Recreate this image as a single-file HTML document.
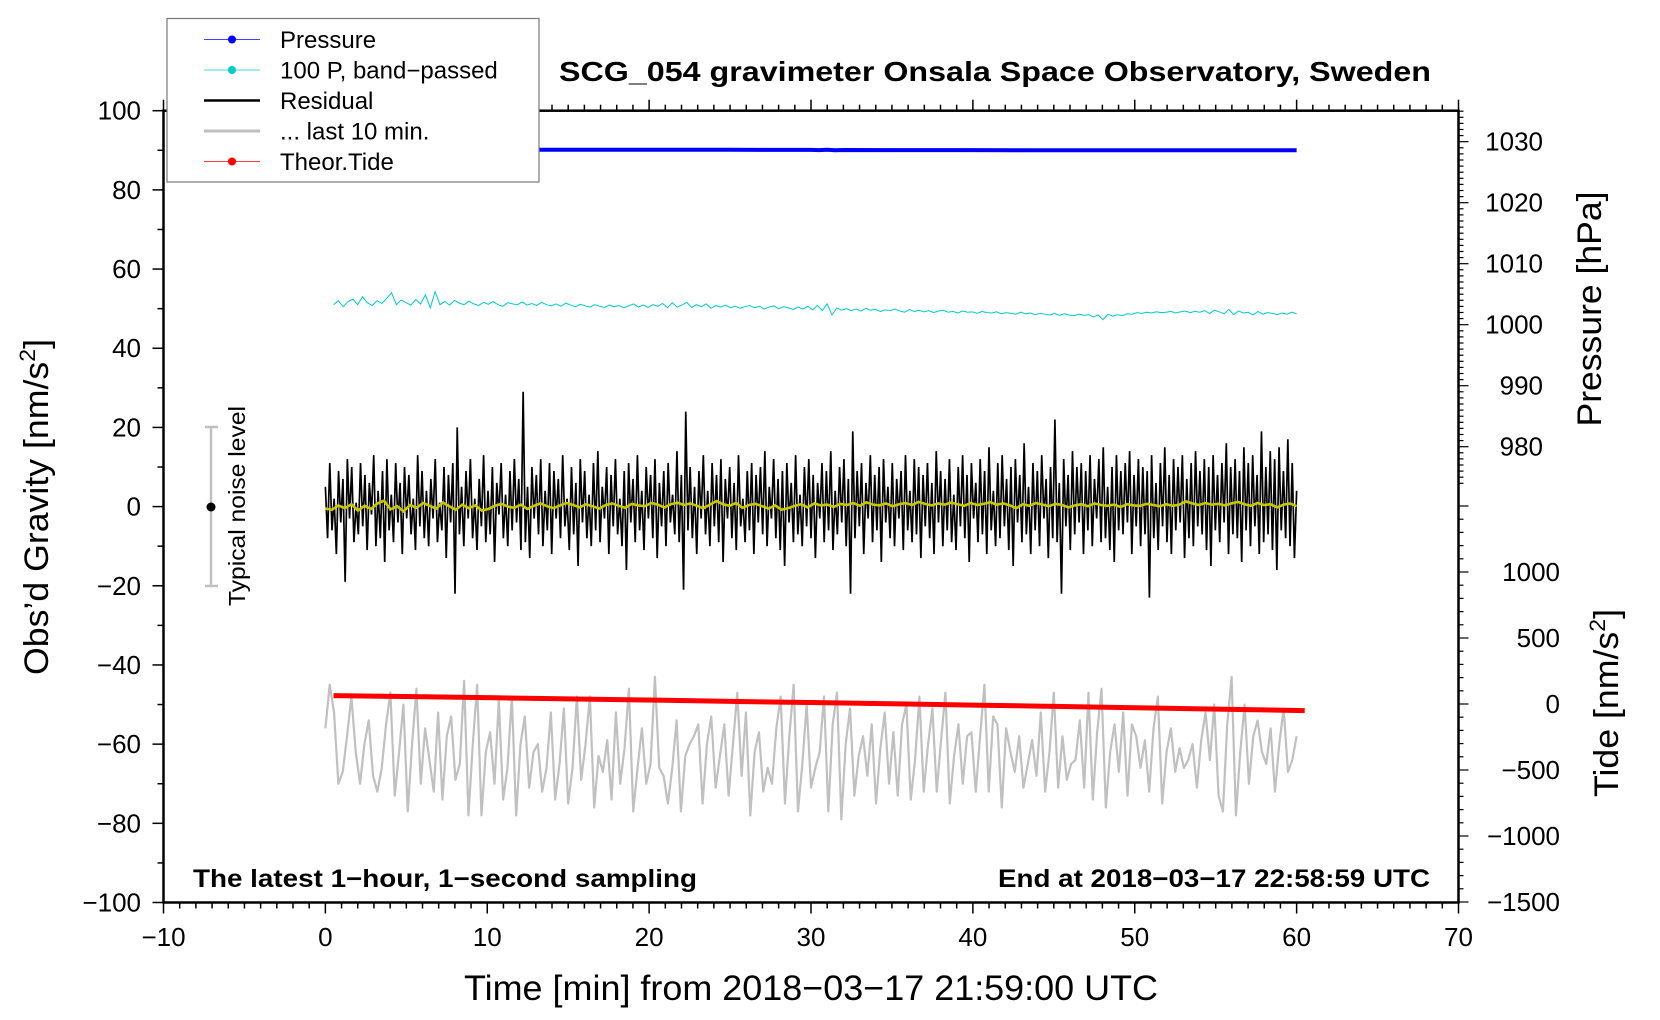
<!DOCTYPE html>
<html><head><meta charset="utf-8"><style>
html,body{margin:0;padding:0;background:#fff;}
svg{display:block;font-family:"Liberation Sans",Arial,sans-serif;}
</style></head><body>
<svg id="chart" width="1660" height="1020" viewBox="0 0 1660 1020" xmlns="http://www.w3.org/2000/svg">
<rect width="1660" height="1020" fill="#fff"/>
<g id="marks"></g>
<g id="axes"></g>
<text x="995" y="81" text-anchor="middle" font-size="28" font-weight="bold" textLength="872" lengthAdjust="spacingAndGlyphs">SCG_054 gravimeter Onsala Space Observatory, Sweden</text>
<text x="193" y="887" font-size="25" font-weight="bold" textLength="504" lengthAdjust="spacingAndGlyphs">The latest 1−hour, 1−second sampling</text>
<text x="1430" y="887" text-anchor="end" font-size="25" font-weight="bold" textLength="432" lengthAdjust="spacingAndGlyphs">End at 2018−03−17 22:58:59 UTC</text>
<text x="811" y="1000" text-anchor="middle" font-size="35" textLength="694" lengthAdjust="spacingAndGlyphs">Time [min] from 2018−03−17 21:59:00 UTC</text>
<text transform="translate(48,507) rotate(-90)" text-anchor="middle" font-size="34" textLength="336" lengthAdjust="spacingAndGlyphs">Obs’d Gravity [nm/s<tspan font-size="22" dy="-13">2</tspan><tspan dy="13">]</tspan></text>
<text transform="translate(1601,309) rotate(-90)" text-anchor="middle" font-size="34" textLength="235" lengthAdjust="spacingAndGlyphs">Pressure [hPa]</text>
<text transform="translate(1618,703) rotate(-90)" text-anchor="middle" font-size="34" textLength="188" lengthAdjust="spacingAndGlyphs">Tide [nm/s<tspan font-size="22" dy="-13">2</tspan><tspan dy="13">]</tspan></text>
<g>
<line x1="211" y1="427" x2="211" y2="586" stroke="#c0c0c0" stroke-width="2.5"/>
<line x1="205" y1="427" x2="218" y2="427" stroke="#c0c0c0" stroke-width="2.5"/>
<line x1="205" y1="586" x2="218" y2="586" stroke="#c0c0c0" stroke-width="2.5"/>
<circle cx="211" cy="507" r="4.5" fill="#000"/>
<text transform="translate(245,506) rotate(-90)" text-anchor="middle" font-size="23" textLength="200" lengthAdjust="spacingAndGlyphs">Typical noise level</text>
</g>
<g>
<rect x="167" y="18.5" width="372" height="163.5" fill="#fff" stroke="#777" stroke-width="1.2"/>
<g><line x1="204" y1="39.5" x2="260" y2="39.5" stroke="#0000ff" stroke-width="0.8"/><circle cx="232" cy="39.5" r="4" fill="#0000ff"/><text x="280" y="48" font-size="24">Pressure</text></g>
<g><line x1="204" y1="70" x2="260" y2="70" stroke="#00cccc" stroke-width="0.8"/><circle cx="232" cy="70" r="4" fill="#00cccc"/><text x="280" y="78.5" font-size="24">100 P, band−passed</text></g>
<g><line x1="204" y1="100.5" x2="260" y2="100.5" stroke="#000" stroke-width="2.5"/><text x="280" y="109" font-size="24">Residual</text></g>
<g><line x1="204" y1="131" x2="260" y2="131" stroke="#c0c0c0" stroke-width="3"/><text x="280" y="139.5" font-size="24">... last 10 min.</text></g>
<g><line x1="204" y1="161.5" x2="260" y2="161.5" stroke="#ff0000" stroke-width="0.8"/><circle cx="232" cy="161.5" r="4" fill="#ff0000"/><text x="280" y="170" font-size="24">Theor.Tide</text></g>
</g>
</svg>
<script>
const xTicks=[-10,0,10,20,30,40,50,60,70];
const yTicks=[100,80,60,40,20,0,-20,-40,-60,-80,-100];
const pTicks=[1030,1020,1010,1000,990,980];
const tideTicks=[1000,500,0,-500,-1000,-1500];
const pressureTimes=[0,5,10,15,20,25,30,30.5,31,31.5,32,35,40,45,50,55,60];
const pressureVals=[1028.7,1028.7,1028.69,1028.68,1028.68,1028.67,1028.66,1028.62,1028.68,1028.6,1028.64,1028.62,1028.61,1028.6,1028.6,1028.6,1028.59];
const tideTimes=[0.5,5.5,10.5,15.5,20.5,25.5,30.5,35.5,40.5,45.5,50.5,55.5,60.5];
const tideVals=[63,56,47,38,29,19,10,1,-9,-19,-29,-40,-50];
const bandVals=[51,52,50.5,51.8,52.4,51,53,51.5,50.8,52,51.3,52.6,54,51,52.2,51.5,50.9,52.3,51.2,53.5,50.2,54.3,51,51.8,50.9,52.1,51.4,51,51.9,51.2,50.8,51.6,51.1,51.8,51,50.6,51.5,51.2,51,51.7,50.9,51.3,50.8,51.6,51,50.7,51.2,50.6,51.4,50.9,50.5,51.1,50.7,50.4,51,50.6,50.3,50.9,50.5,50.8,50.2,50.7,51.2,50.4,50.9,50.3,51,50.6,51.3,50.2,51.5,50.4,50.9,51.6,50.3,51,50.5,51.2,50.1,50.8,50.4,50.9,50.2,50.6,50.1,50.5,50.8,50.2,50.6,49.9,50.4,50.7,50,50.5,50.2,49.8,50.4,49.9,50.6,49.7,50.8,49.5,51.2,48.4,50.2,49.6,50,49.5,49.9,49.4,50.1,49.6,49.8,49.3,49.7,49.5,49.9,49.4,49.1,49.8,49.3,49.6,49.2,49.5,49,49.4,49.6,49.1,49.3,48.9,49.4,49.1,49.2,48.8,49.3,49,48.9,49.2,48.7,49,48.8,48.6,49.1,48.7,48.9,48.5,48.8,48.6,48.4,48.8,48.3,48.7,48.4,48.2,48.6,48.3,48.5,47.9,48.4,47.2,48.6,48.1,48.5,48.2,48.7,48.6,49,48.8,49.1,48.9,49.2,49,49.1,49.3,48.9,49.2,49.4,49,49.3,49.1,49.5,48.8,49.6,49.2,48.7,49.8,48.5,49.4,48.9,49.1,48.4,49.3,48.6,49,48.8,48.5,48.9,48.6,49.1,48.7];
const residualVals=[5,-8,11,-6,2,-12,9,-4,7,-19,12,-3,10,-9,1,-7,11,-5,8,-11,6,-2,13,-10,4,-8,9,-14,12,-6,3,-9,11,-4,6,-12,10,-3,8,-7,2,-11,13,-5,9,-8,4,-10,7,-3,12,-9,1,-6,10,-13,8,-4,11,-22,20,-7,5,-10,9,-3,12,-8,2,-11,7,-5,13,-9,4,-7,10,-14,6,-2,11,-8,3,-10,9,-6,12,-4,7,-11,29,-9,5,-13,10,-3,8,-7,12,-10,4,-6,11,-12,9,-3,7,-8,13,-5,2,-11,10,-7,6,-15,12,-4,9,-8,3,-10,11,-6,14,-9,5,-3,10,-12,8,-5,12,-7,2,-10,9,-16,11,-4,7,-9,13,-6,4,-11,10,-3,8,-8,12,-13,6,-5,9,-10,11,-4,3,-7,14,-9,8,-21,24,-6,10,-8,5,-12,9,-3,13,-7,4,-10,11,-5,8,-9,12,-14,7,-3,10,-8,6,-11,13,-5,2,-9,9,-6,11,-12,8,-4,10,-7,14,-10,5,-3,12,-8,7,-11,9,-15,11,-4,6,-9,13,-7,3,-10,10,-5,12,-8,8,-13,6,-3,11,-9,9,-6,14,-11,4,-7,10,-4,12,-10,7,-22,19,-8,9,-5,11,-12,6,-3,13,-9,8,-6,10,-14,12,-4,5,-8,11,-10,7,-3,9,-11,13,-6,4,-9,12,-7,10,-13,8,-5,11,-8,6,-12,14,-4,9,-10,7,-6,12,-9,3,-11,10,-5,13,-8,8,-14,11,-3,6,-9,12,-7,9,-12,15,-6,4,-10,11,-8,13,-5,7,-11,10,-15,12,-4,8,-9,16,-7,5,-12,11,-6,9,-10,13,-3,7,-13,10,-8,22,-9,6,-22,12,-5,8,-11,14,-7,10,-4,11,-12,9,-6,13,-10,7,-3,12,-9,15,-8,5,-11,10,-14,13,-6,9,-7,11,-4,14,-12,8,-5,12,-10,10,-7,9,-23,13,-8,6,-11,11,-5,15,-9,8,-12,12,-6,10,-4,13,-13,7,-8,11,-10,14,-5,9,-7,12,-11,10,-15,13,-6,8,-9,11,-4,16,-12,10,-7,12,-8,9,-14,15,-6,11,-10,13,-5,8,-12,19,-9,10,-7,14,-11,12,-16,15,-6,9,-8,17,-10,11,-13,4];
const meanVals=[-0.5,-0.8,0.3,-0.4,0.6,-1,0.2,-0.6,0.8,1.5,-0.7,0.1,-1.2,0.4,-0.3,0.9,0.2,-0.5,1,0.1,-0.8,0.5,-0.4,0.3,-1,-0.6,0.2,0.7,0,-0.3,0.5,-0.6,0.2,0.8,0.1,-0.4,0.3,0.9,0.4,-0.2,0.6,0.1,-0.5,0.4,0.8,0.2,-0.3,0.7,0.3,0.1,0.9,0.5,-0.2,0.6,1,0.4,0.8,0.2,-0.4,0.5,1.4,0.6,0.2,0.9,-0.3,0.4,0.7,0.1,-0.5,0.3,-0.8,-0.4,0.2,0.6,-0.2,0.8,0.3,0.5,-0.1,0.7,0.4,0.9,0.2,1.1,0.5,0.3,0.8,0.1,0.6,0.9,0.4,1.2,0.7,0.3,0.8,0.5,1,0.6,0.2,0.9,0.4,0.7,1.1,0.5,0.8,0.3,-0.4,0.6,0.2,0.9,0.5,0.1,0.7,0.4,-0.2,0.3,0.6,0.1,0.8,0.4,0.2,0.5,-0.1,0.6,0.3,0.2,0.7,0.4,0.1,0.6,0.2,0.5,1.3,0.8,0.4,0.9,0.5,0.7,0.3,0.8,1.2,0.6,0.2,0.9,0.4,0.6,-0.2,0.5,0.8,0.1];
const last10Vals=[-56,-45,-52,-70,-67,-58,-48,-62,-70,-60,-54,-68,-72,-66,-55,-47,-73,-62,-50,-77,-60,-46,-70,-56,-64,-72,-52,-74,-58,-53,-69,-65,-44,-78,-60,-45,-78,-62,-57,-70,-49,-74,-66,-48,-78,-60,-53,-71,-62,-60,-72,-66,-52,-74,-65,-51,-75,-66,-48,-69,-60,-48,-76,-63,-67,-59,-74,-52,-70,-61,-46,-77,-66,-56,-70,-65,-43,-66,-68,-75,-66,-54,-77,-63,-60,-58,-55,-75,-60,-53,-71,-63,-55,-73,-60,-47,-68,-52,-78,-62,-57,-72,-66,-70,-56,-48,-75,-58,-45,-77,-65,-50,-71,-66,-62,-48,-77,-55,-47,-79,-60,-51,-73,-63,-58,-68,-55,-75,-61,-52,-70,-57,-73,-55,-50,-74,-64,-48,-72,-60,-51,-72,-59,-47,-75,-63,-55,-70,-58,-57,-72,-58,-45,-72,-53,-55,-76,-56,-62,-67,-58,-71,-65,-59,-68,-52,-72,-62,-47,-71,-58,-69,-65,-64,-54,-71,-47,-74,-57,-46,-76,-62,-55,-67,-52,-73,-55,-58,-66,-59,-72,-56,-48,-75,-62,-56,-67,-61,-66,-64,-60,-71,-59,-52,-64,-50,-73,-77,-55,-43,-78,-62,-50,-70,-58,-54,-62,-65,-56,-72,-60,-51,-67,-64,-58];

const NS='http://www.w3.org/2000/svg';
const L=163.5,R=1458.5,T=110.7,B=902.5;
const xs=t=>L+(t+10)*(R-L)/80;
const ys=v=>506.6-v*(B-T)/200;
const yp=p=>141.7+(1030-p)*6.1;
const yt=v=>704-v*66/500;
const marks=document.getElementById('marks');
const axes=document.getElementById('axes');
function mk(tag,attrs,parent){const e=document.createElementNS(NS,tag);for(const k in attrs)e.setAttribute(k,attrs[k]);parent.appendChild(e);return e;}
function series(times,vals,yf){return vals.map((v,i)=>xs(times(i)).toFixed(2)+','+yf(v).toFixed(2)).join(' ');}

let g=mk('polyline',{points:series(i=>i*60/(last10Vals.length-1),last10Vals,ys),fill:'none',stroke:'#c0c0c0','stroke-width':2.2,'stroke-linejoin':'round'},marks);


g=mk('polyline',{points:series(i=>tideTimes[i],tideVals,yt),fill:'none',stroke:'#ff0000','stroke-width':5},marks);


g=mk('polyline',{points:series(i=>i*60/(residualVals.length-1),residualVals,ys),fill:'none',stroke:'#000','stroke-width':1.7},marks);


g=mk('polyline',{points:series(i=>i*60/(meanVals.length-1),meanVals,ys),fill:'none',stroke:'#c8c800','stroke-width':2.6},marks);


g=mk('polyline',{points:series(i=>0.5+i*59.5/(bandVals.length-1),bandVals,ys),fill:'none',stroke:'#00cccc','stroke-width':1},marks);


g=mk('polyline',{points:series(i=>pressureTimes[i],pressureVals,yp),fill:'none',stroke:'#0000ff','stroke-width':4},marks);



g=mk('rect',{x:L,y:T,width:R-L,height:B-T,fill:'none',stroke:'#000','stroke-width':2.5},axes);


for(let t=-10;t<=70;t++){
  const maj=t%10===0,x=xs(t),len=maj?11:6;
  mk('line',{x1:x,y1:B,x2:x,y2:B+len,stroke:'#000','stroke-width':1.5},axes);
  mk('line',{x1:x,y1:T,x2:x,y2:T-len,stroke:'#000','stroke-width':1.5},axes);
}
xTicks.forEach(t=>{const e=mk('text',{x:xs(t),y:946,'text-anchor':'middle','font-size':26},axes);e.textContent=String(t).replace('-','−');

});
for(let v=-100;v<=100;v+=10){const y=ys(v),maj=v%20===0;mk('line',{x1:L,y1:y,x2:L-(maj?11:6),y2:y,stroke:'#000','stroke-width':1.5},axes);}
yTicks.forEach(v=>{const e=mk('text',{x:141,y:ys(v)+9,'text-anchor':'end','font-size':26},axes);e.textContent=String(v).replace('-','−');

});
for(let p=1035;p>=974;p--){const y=yp(p),maj=p%10===0;mk('line',{x1:R,y1:y,x2:R+(maj?10:5),y2:y,stroke:'#000','stroke-width':1.2},axes);}
pTicks.forEach(p=>{const e=mk('text',{x:1543,y:yp(p)+9,'text-anchor':'end','font-size':26},axes);e.textContent=String(p);

});
for(let v=1500;v>=-1500;v-=100){const y=yt(v),maj=v%500===0;mk('line',{x1:R,y1:y,x2:R+(maj?10:5),y2:y,stroke:'#000','stroke-width':1.2},axes);}
tideTicks.forEach(v=>{const e=mk('text',{x:1560,y:yt(v)+9,'text-anchor':'end','font-size':26},axes);e.textContent=String(v).replace('-','−');

});
</script>
</body></html>
